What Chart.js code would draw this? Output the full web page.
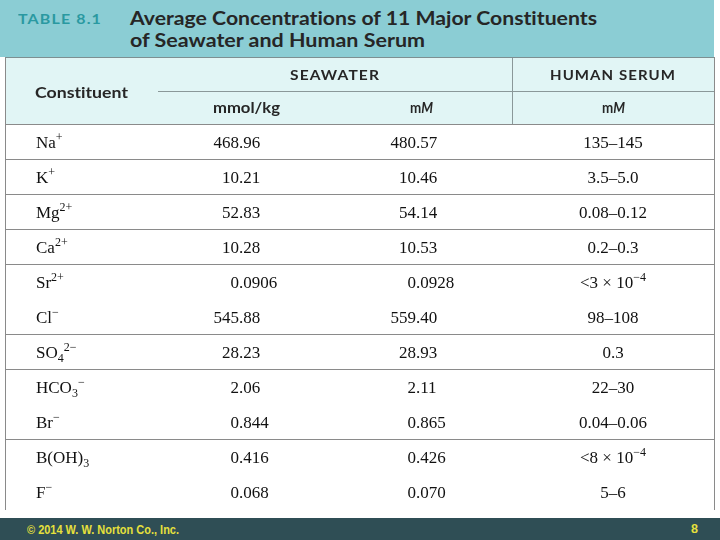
<!DOCTYPE html>
<html><head><meta charset="utf-8">
<script src="https://cdn.jsdelivr.net/npm/chart.js@4.4.1/dist/chart.umd.min.js"></script>
<style>
html,body{margin:0;padding:0;background:#fff;}
#page{position:relative;width:720px;height:540px;overflow:hidden;background:#fff;}
.abs{position:absolute;white-space:nowrap;}
#band{left:0;top:0;width:714px;height:57px;background:#8bcdd4;}
#head{left:5px;top:57px;width:710px;height:67px;background:#e1f5f5;border-top:1px solid #7d8f91;box-sizing:border-box;}
#frame{left:5px;top:57px;width:710px;height:453px;border-left:1px solid #8a8a8a;border-right:1px solid #8a8a8a;box-sizing:border-box;pointer-events:none;}
#hline{left:158px;top:91px;width:556px;height:1px;background:#8a9899;}
#vline{left:512px;top:58px;width:1px;height:66px;background:#8a9899;}
#wrap{left:6px;top:124px;width:708px;height:385px;}
#footer{left:0;top:518px;width:720px;height:22px;background:#2f4e55;}
.hd{font-family:Lato,"Open Sans",sans-serif;font-weight:700;color:#262626;line-height:20px;height:20px;transform-origin:left center;font-variant-ligatures:none;font-feature-settings:"liga" 0;}
.ft{font-family:"Liberation Sans",Arial,sans-serif;font-weight:700;color:#e6e03c;font-size:12px;line-height:16px;height:16px;transform-origin:left center;}
</style></head>
<body>
<div id="page">
  <div id="band" class="abs"></div>
  <div id="head" class="abs"></div>
  <div id="hline" class="abs"></div>
  <div id="vline" class="abs"></div>
  <div id="wrap" class="abs"><canvas id="c" width="708" height="385" style="width:708px;height:385px;display:block"></canvas></div>
  <div id="frame" class="abs"></div>
  <div id="footer" class="abs"></div>

  <span class="abs hd" style="left:18px;top:9px;font-size:14px;letter-spacing:1px;color:#2a99a1" data-w="84">TABLE 8.1</span>
  <span class="abs hd" style="left:130px;top:8px;font-size:18px" data-w="467">Average Concentrations of 11 Major Constituents</span>
  <span class="abs hd" style="left:130px;top:30px;font-size:18px" data-w="295">of Seawater and Human Serum</span>

  <span class="abs hd" style="left:290px;top:65px;font-size:14px;letter-spacing:1px" data-w="90">SEAWATER</span>
  <span class="abs hd" style="left:550px;top:65px;font-size:14px;letter-spacing:1px" data-w="126">HUMAN SERUM</span>
  <span class="abs hd" style="left:35px;top:82px;font-size:15px" data-w="93">Constituent</span>
  <span class="abs hd" style="left:213px;top:97px;font-size:15px" data-w="67">mmol/kg</span>
  <span class="abs hd" style="left:410px;top:97px;font-size:15px" data-w="23">m<i>M</i></span>
  <span class="abs hd" style="left:602px;top:97px;font-size:15px" data-w="23">m<i>M</i></span>

  <span class="abs ft" style="left:27px;top:522px" data-w="152">© 2014 W. W. Norton Co., Inc.</span>
  <span class="abs ft" style="left:691px;top:521px" data-w="7">8</span>
</div>
<script>
const constituents = ["Na^+","K^+","Mg^{2+}","Ca^{2+}","Sr^{2+}","Cl^−","SO_4^{2−}","HCO_3^−","Br^−","B(OH)_3","F^−"];
const seawaterMmolPerKg = ["468.96","10.21","52.83","10.28","0.0906","545.88","28.23","2.06","0.844","0.416","0.068"];
const seawaterMM = ["480.57","10.46","54.14","10.53","0.0928","559.40","28.93","2.11","0.865","0.426","0.070"];
const humanSerumMM = ["135–145","3.5–5.0","0.08–0.12","0.2–0.3","<3 × 10^{−4}","98–108","0.3","22–30","0.04–0.06","<8 × 10^{−4}","5–6"];

// fit header/footer text widths
document.querySelectorAll('[data-w]').forEach(el=>{
  const w = el.getBoundingClientRect().width;
  const t = +el.dataset.w;
  if (w > 0) el.style.transform = 'scaleX(' + (t / w) + ')';
});

function parseRich(s){
  const segs=[]; let i=0, buf='';
  while(i<s.length){
    const ch=s[i];
    if(ch==='^'||ch==='_'){
      if(buf){segs.push({t:buf,m:0});buf='';}
      let t;
      if(s[i+1]==='{'){const j=s.indexOf('}',i+2);t=s.slice(i+2,j);i=j+1;}
      else {t=s[i+1];i+=2;}
      segs.push({t:t,m:ch==='^'?1:-1});
    } else {buf+=ch;i++;}
  }
  if(buf)segs.push({t:buf,m:0});
  return segs;
}

const tableCells = {
  id:'tableCells',
  afterDraw(chart, args, opts){
    const {ctx} = chart;
    const xs = chart.scales.x, ys = chart.scales.y;
    const big = opts.size + 'px ' + opts.family;
    const small = opts.smallSize + 'px ' + opts.family;
    const segWidth = seg => { ctx.font = seg.m ? small : big; return ctx.measureText(seg.t).width; };
    const drawRich = (str, x0, yb) => {
      let x = x0;
      parseRich(str).forEach(seg=>{
        ctx.font = seg.m ? small : big;
        const dy = seg.m===1 ? -opts.supShift : (seg.m===-1 ? opts.subShift : 0);
        ctx.fillText(seg.t, x, yb + dy);
        x += ctx.measureText(seg.t).width;
      });
    };
    ctx.save();
    ctx.fillStyle = opts.color;
    ctx.textBaseline = 'alphabetic';
    ctx.textAlign = 'left';
    opts.columns.forEach(col=>{
      const ax = xs.getPixelForValue(col.anchor);
      col.values.forEach((v,i)=>{
        const yb = ys.getPixelForValue(i) + opts.baselineShift;
        let x0 = ax;
        if(col.align==='decimal'){
          ctx.font = big;
          x0 = ax - ctx.measureText(v.split('.')[0]).width;
        } else if(col.align==='center'){
          const w = parseRich(v).reduce((a,s)=>a+segWidth(s),0);
          x0 = ax - w/2;
        }
        drawRich(v, x0, yb);
      });
    });
    ctx.restore();
  }
};

const hiddenRules = [5, 8, 10];
new Chart(document.getElementById('c'), {
  type:'bar',
  data:{ labels: constituents, datasets: [] },
  plugins:[tableCells],
  options:{
    indexAxis:'y',
    responsive:false, animation:false, events:[],
    layout:{padding:0},
    plugins:{
      legend:{display:false}, tooltip:{enabled:false},
      tableCells:{
        family:'"Liberation Serif","Times New Roman",serif',
        size:17, smallSize:12, supShift:7, subShift:4, baselineShift:6,
        color:'#111111',
        columns:[
          {values:constituents, anchor:30, align:'left'},
          {values:seawaterMmolPerKg, anchor:233, align:'decimal'},
          {values:seawaterMM, anchor:410, align:'decimal'},
          {values:humanSerumMM, anchor:607, align:'center'}
        ]
      }
    },
    scales:{
      x:{type:'linear', min:0, max:708, display:false},
      y:{type:'category', offset:true,
         grid:{offset:true, drawTicks:false, lineWidth:1,
               color: c => (c.index===undefined || hiddenRules.includes(c.index)) ? 'rgba(0,0,0,0)' : '#8a8a8a'},
         ticks:{display:false}, border:{display:false}}
    }
  }
});
</script>
</body></html>
